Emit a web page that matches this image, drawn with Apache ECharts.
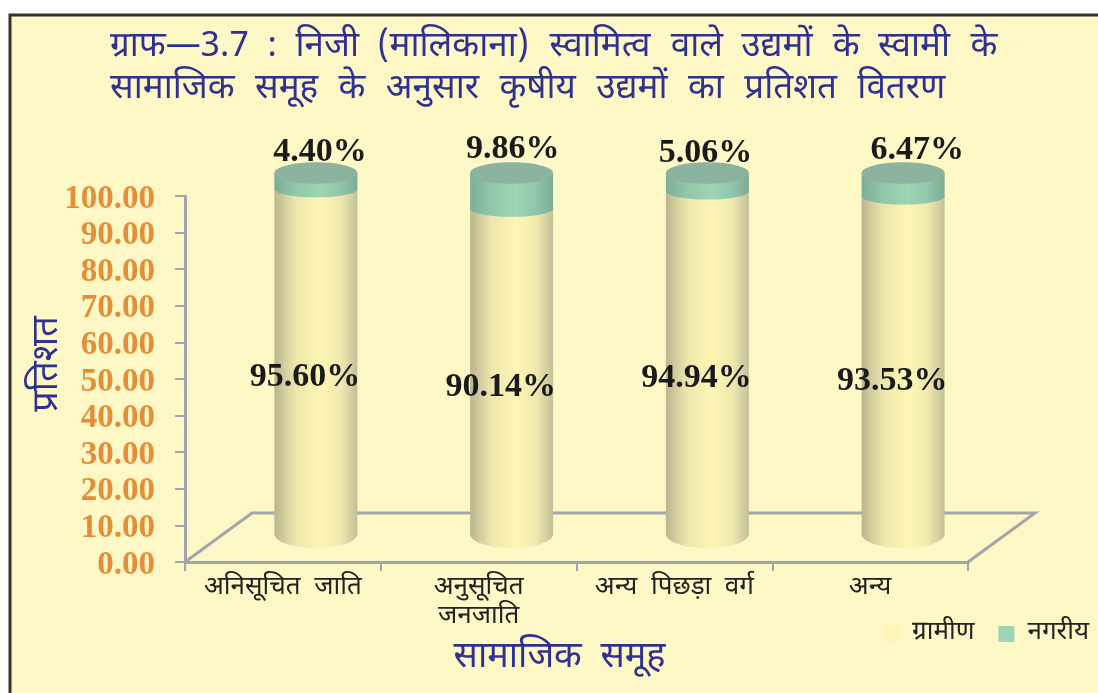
<!DOCTYPE html>
<html><head><meta charset="utf-8">
<style>html,body{margin:0;padding:0;background:#fff}#c{width:1098px;height:693px}</style>
<script src="https://cdn.jsdelivr.net/npm/echarts@6/dist/echarts.min.js"></script></head>
<body><div id="c"></div>
<script>
const categories = ['अनिसूचित  जाति', 'अनुसूचित\nजनजाति', 'अन्य  पिछड़ा  वर्ग', 'अन्य'];
const rural = [95.60, 90.14, 94.94, 93.53];
const urban = [4.40, 9.86, 5.06, 6.47];
const yTicks = [0, 100];
const titleLine1 = 'ग्राफ—3.7  :  निजी  (मालिकाना)\u200a  स्वामित्व\u200a  वाले  उद्यमों\u200a  के  स्वामी\u200a  के';
const titleLine2 = 'सामाजिक\u200a  समूह\u200a  के\u200a  अनुसार\u200a  कृषीय\u200a  उद्यमों\u200a  का\u200a  प्रतिशत\u200a  वितरण';

const urbanLabelNudgeX = [4, 1, -2, 14];
const urbanLabelNudgeY = [2, -1, 3, 0];
const deva = '"Noto Sans Devanagari","Lohit Devanagari","FreeSans","Noto Sans","DejaVu Sans",sans-serif';
const serif = '"Liberation Serif",serif';
const navy = '#2e3192';
const grad = (s) => new echarts.graphic.LinearGradient(0, 0, 1, 0, s.map(([offset, color]) => ({offset, color})));
const yellowFill = () => grad([[0, '#b9b68e'], [0.25, '#ece6ac'], [0.55, '#fdf6b4'], [0.8, '#efe9ae'], [1, '#c3c09a']]);
const greenFill = () => grad([[0, '#7cae97'], [0.25, '#90c6a9'], [0.55, '#9cd4b4'], [0.8, '#90c5a9'], [1, '#7cab96']]);
const FRAC = 0.212;

function ruralItem(p, api) {
  const i = api.value(0), v = api.value(1);
  const b = api.coord([i, 0]), t = api.coord([i, v]);
  const rx = api.size([1, 0])[0] * FRAC;
  return {type: 'group', children: [
    {type: 'ellipse', shape: {cx: b[0], cy: b[1], rx, ry: rx * 0.34}, style: {fill: yellowFill()}},
    {type: 'rect', shape: {x: b[0] - rx, y: t[1], width: rx * 2, height: b[1] - t[1]}, style: {fill: yellowFill()}},
    {type: 'text', x: b[0] - 11, y: (b[1] + t[1]) / 2 + 16, style: {
      text: rural[i].toFixed(2) + '%', font: 'bold 34px ' + serif, fill: '#1a1a1a', align: 'center', verticalAlign: 'middle'}}
  ]};
}
function urbanItem(p, api) {
  const i = api.value(0), lo = api.value(1), hi = lo + api.value(2);
  const b = api.coord([i, lo]), t = api.coord([i, hi]);
  const rx = api.size([1, 0])[0] * FRAC;
  return {type: 'group', children: [
    {type: 'ellipse', shape: {cx: b[0], cy: b[1], rx, ry: rx * 0.2}, style: {fill: greenFill()}},
    {type: 'rect', shape: {x: b[0] - rx, y: t[1], width: rx * 2, height: b[1] - t[1]}, style: {fill: greenFill()}},
    {type: 'ellipse', shape: {cx: t[0], cy: t[1], rx, ry: rx * 0.26}, style: {fill: '#8cb3a0'}},
    {type: 'text', x: t[0] + urbanLabelNudgeX[i], y: t[1] - 23 + urbanLabelNudgeY[i], style: {
      text: urban[i].toFixed(2) + '%', font: 'bold 34px ' + serif, fill: '#1a1a1a', align: 'center', verticalAlign: 'middle'}}
  ]};
}
const gray = '#a2a5aa';
const chart = echarts.init(document.getElementById('c'), null, {renderer: 'canvas'});
chart.setOption({
  animation: false,
  backgroundColor: '#ffffff',
  title: [
    {text: titleLine1, left: 105, top: 27, textStyle: {fontFamily: deva, fontSize: 35, fontWeight: 'normal', color: navy}},
    {text: titleLine2, left: 105, top: 69, textStyle: {fontFamily: deva, fontSize: 35, fontWeight: 'normal', color: navy}}
  ],
  graphic: [
    {type: 'rect', z: -10, silent: true, shape: {x: 10, y: 15, width: 1200, height: 800},
     style: {fill: '#fef8c6', stroke: '#333', lineWidth: 3}},
    {type: 'polyline', z: 0, silent: true, shape: {points: [[185, 562], [252, 513], [1035, 513], [968, 562]]},
     style: {fill: null, stroke: gray, lineWidth: 3}}
  ],
  legend: {
    left: 878, top: 616, itemWidth: 16, itemHeight: 16, itemGap: 24,
    textStyle: {fontFamily: deva, fontSize: 26, color: '#222', padding: [0, 0, 0, 8]},
    data: [
      {name: 'ग्रामीण', icon: 'rect', itemStyle: {color: '#fdf6b4'}},
      {name: 'नगरीय', icon: 'rect', itemStyle: {color: '#9cd4b4'}}
    ]
  },
  grid: [
    {left: 185, width: 783, top: 196, height: 366},
    {left: 218, width: 783, top: 173, height: 361}
  ],
  xAxis: [
    {type: 'category', gridIndex: 0, data: categories,
     axisLine: {lineStyle: {color: gray, width: 3}},
     axisTick: {show: true, length: 9, lineStyle: {color: gray, width: 2}},
     axisLabel: {interval: 0, margin: 13, lineHeight: 29, fontFamily: deva, fontSize: 26, color: '#222'},
     name: 'सामाजिक  समूह', nameLocation: 'middle', nameGap: 80,
     nameTextStyle: {fontFamily: deva, fontSize: 36, color: navy, padding: [0, 34, 0, 0]}},
    {type: 'category', gridIndex: 1, data: categories, show: false}
  ],
  yAxis: [
    {type: 'value', gridIndex: 0, min: yTicks[0], max: yTicks[1], interval: 10,
     axisLine: {show: true, lineStyle: {color: gray, width: 3}},
     axisTick: {show: true, length: 10, lineStyle: {color: gray, width: 2}},
     splitLine: {show: false},
     axisLabel: {margin: 30, verticalAlign: 'top', lineHeight: 6, fontFamily: serif, fontWeight: 'bold', fontSize: 33, color: '#e58e36',
       formatter: v => v.toFixed(2)},
     name: 'प्रतिशत', nameLocation: 'middle', nameGap: 117, nameRotate: 90, nameMoveOverlap: false,
     nameTextStyle: {fontFamily: deva, fontSize: 36, fontWeight: 'normal', color: navy, padding: [0, 0, 0, 30]}},
    {type: 'value', gridIndex: 1, min: yTicks[0], max: yTicks[1], show: false}
  ],
  series: [
    {name: 'ग्रामीण', type: 'custom', xAxisIndex: 1, yAxisIndex: 1, z: 3,
     itemStyle: {color: '#fdf6b4'}, renderItem: ruralItem, encode: {x: 0, y: 1},
     data: rural.map((v, i) => [i, v])},
    {name: 'नगरीय', type: 'custom', xAxisIndex: 1, yAxisIndex: 1, z: 4,
     itemStyle: {color: '#9cd4b4'}, renderItem: urbanItem, encode: {x: 0, y: 1},
     data: urban.map((v, i) => [i, rural[i], v])}
  ]
});
</script></body></html>
